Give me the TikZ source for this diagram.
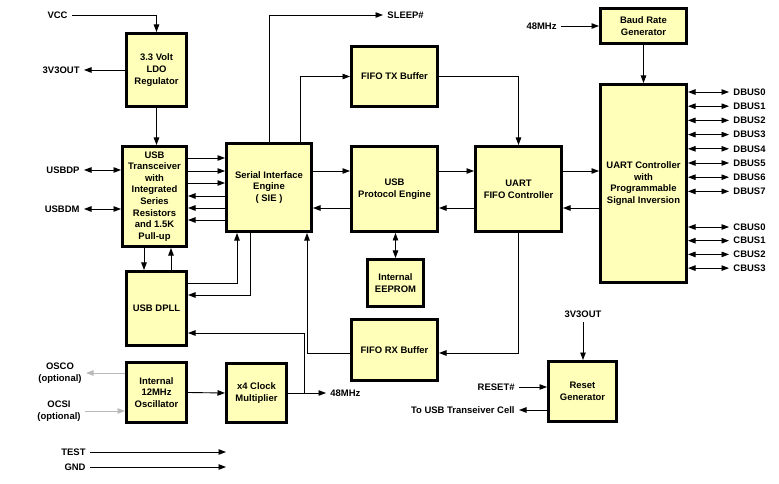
\documentclass[tikz,border=0pt]{standalone}
\usepackage{fontspec}
\setmainfont{Liberation Sans}
\usetikzlibrary{arrows.meta}
\definecolor{blockfill}{RGB}{255,255,185}
\tikzset{
block/.style={shape=rectangle, draw, line width=3bp, fill=blockfill, align=center, inner sep=1bp, font=\bfseries\fontsize{9.5}{11.7}\selectfont}, signame/.style={inner sep=4bp, align=center, font=\bfseries\fontsize{9.5}{11.7}\selectfont}, opt/.style={draw=gray!55, line width=0.9bp}}

\begin{document}
\begin{tikzpicture}[x=1bp, y=-1bp, line width=0.9bp, >={Triangle[length=7.5bp, width=5.5bp]}]
\useasboundingbox (0,0) rectangle (779,484);
\node [block, minimum width=60bp, minimum height=73bp] at (156.5, 70) (ldo) {3.3 Volt\\LDO\\Regulator};
\node [block, minimum width=64bp, minimum height=100bp] at (154.5, 196.5) (xcvr) {USB\\Transceiver\\with\\Integrated\\Series\\Resistors\\and 1.5K\\Pull-up};
\node [block, minimum width=85bp, minimum height=88bp] at (269, 187.5) (sie) {Serial Interface\\Engine\\( SIE )};
\node [block, minimum width=60bp, minimum height=74bp] at (156.5, 308.5) (dpll) {USB DPLL};
\node [block, minimum width=60bp, minimum height=60bp] at (156.5, 392.5) (osc) {Internal\\12MHz\\Oscillator};
\node [block, minimum width=60bp, minimum height=59bp] at (256.5, 393) (mult) {x4 Clock\\Multiplier};
\node [block, minimum width=86bp, minimum height=60bp] at (394.5, 76.5) (tx) {FIFO TX Buffer};
\node [block, minimum width=86bp, minimum height=85bp] at (394.5, 189) (pe) {USB\\Protocol Engine};
\node [block, minimum width=56bp, minimum height=47bp] at (395.5, 283) (eeprom) {Internal\\EEPROM};
\node [block, minimum width=86bp, minimum height=61bp] at (394.5, 350) (rx) {FIFO RX Buffer};
\node [block, minimum width=86bp, minimum height=85bp] at (518.5, 189) (fifo) {UART\\FIFO Controller};
\node [block, minimum width=86bp, minimum height=35bp] at (643.5, 26) (baud) {Baud Rate\\Generator};
\node [block, minimum width=86bp, minimum height=198bp] at (643.5, 183.5) (uart) {UART Controller\\with\\Programmable\\Signal Inversion};
\node [block, minimum width=68bp, minimum height=60bp] at (582.5, 391.5) (reset) {Reset\\Generator};

\node [signame, anchor=east] at (72, 15) (vcc) {VCC};
\node [signame, anchor=east] at (84, 70) (v3v-out) {3V3OUT};
\node [signame, anchor=east] at (84, 170) (usbdp) {USBDP};
\node [signame, anchor=east] at (84, 209) (usbdm) {USBDM};
\node [signame, anchor=east] at (86, 373) (osco) {OSCO\\(optional)};
\node [signame, anchor=east] at (85, 411) (ocsi) {OCSI\\(optional)};
\node [signame, anchor=east] at (90, 452) (test) {TEST};
\node [signame, anchor=east] at (90, 467) (gnd) {GND};
\node [signame, anchor=west] at (383, 15) (sleep) {SLEEP\#};
\node [signame, anchor=west] at (326, 393) (mhz-out) {48MHz};
\node [signame, anchor=east] at (561, 26) (mhz-in) {48MHz};
\node [signame, anchor=south] at (583, 322) (v3v-in) {3V3OUT};
\node [signame, anchor=east] at (519, 387) (rst) {RESET\#};
\node [signame, anchor=east] at (519, 410) (cell) {To USB Transeiver Cell};
\coordinate (test-end) at (226, 452);
\coordinate (gnd-end) at (226, 467);

\draw [->] (vcc.east) -| (ldo.north);
\draw [->] (ldo.west) -- (v3v-out.east);
\draw [->] (ldo.south) -- (ldo.south |- xcvr.north);
\draw [<->] (usbdp) -- (xcvr.west |- usbdp);
\draw [<->] (usbdm) -- (xcvr.west |- usbdm);
\foreach \y in {158, 171, 183}
      \draw [->] (xcvr.east |- 0,\y) -- (sie.west |- 0,\y);
\foreach \y in {196, 208, 220}
      \draw [<-] (xcvr.east |- 0,\y) -- (sie.west |- 0,\y);
\draw [->] (xcvr.south -| 144,0) -- (dpll.north -| 144,0);
\draw [->] (dpll.north -| 171,0) -- (xcvr.south -| 171,0);
\draw [->] (dpll.east |- 0,283) -| (sie.south -| 237,0);
\draw [->] (sie.south -| 250,0) |- (dpll.east |- 0,295);
\draw [->] (osc.east) -- (mult.west);
\draw [->] (mult.east) -- (mhz-out);
\draw [->] (mult.east -| 304,0) |- (dpll.east |- 0,333);
\draw [->] (rx.west |- 0,353) -| (sie.south -| 307,0);
\draw [->] (sie.north -| 269,0) |- (sleep.west);
\draw [->] (sie.north -| 300,0) |- (tx.west);
\draw [->] (tx.east) -| (fifo.north);
\foreach \a/\b in {sie/pe, pe/fifo, fifo/uart}{
      \draw [->] (\a.east |- 0,171) -- (\b.west |- 0,171);
      \draw [<-] (\a.east |- 0,208) -- (\b.west |- 0,208);
}
\draw [<->] (pe.south -| eeprom.north) -- (eeprom.north);
\draw [->] (fifo.south) |- (rx.east |- 0,353);
\draw [->] (mhz-in) -- (baud.west);
\draw [->] (baud.south) -- (uart.north);
\foreach \i [evaluate={\y=92+14.2*\i;}] in {0,...,7}{
      \node [signame, anchor=west] at (729, \y) (dbus-\i) {DBUS\i};
      \draw [<->] (uart.east |- dbus-\i) -- (dbus-\i);
}
\foreach \i [evaluate={\y=227+13.7*\i;}] in {0,...,3}{
      \node [signame, anchor=west] at (729, \y) (cbus-\i) {CBUS\i};
      \draw [<->] (uart.east |- cbus-\i) -- (cbus-\i);
}
\draw [->, opt] (osc.west |- osco) -- (osco);
\draw [->, opt] (ocsi) -- (osc.west |- ocsi);
\draw [->] (test) -- (test-end);
\draw [->] (gnd) -- (gnd-end);
\draw [->] (v3v-in.south) -- (v3v-in.south |- reset.north);
\draw [->] (rst) -- (reset.west |- rst);
\draw [->] (reset.west |- cell) -- (cell);
\end{tikzpicture}
\end{document}
